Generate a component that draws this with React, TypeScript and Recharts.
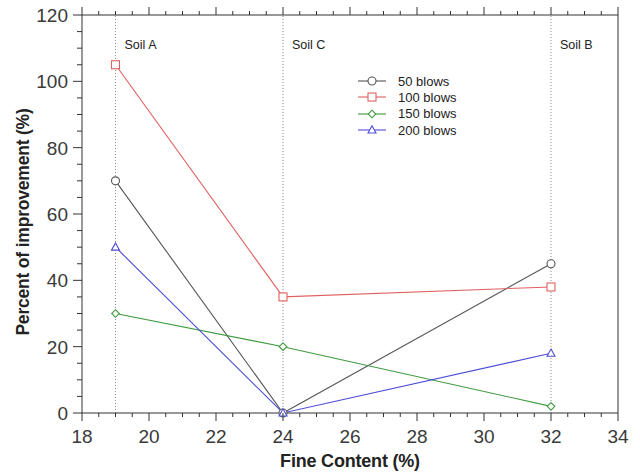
import React from 'react';
import { LineChart, Line, XAxis, YAxis, ReferenceLine, Legend } from 'recharts';

const fineContent = [19, 24, 32];
const blows50 = [70, 0, 45];
const blows100 = [105, 35, 38];
const blows150 = [30, 20, 2];
const blows200 = [50, 0, 18];

const seriesNames = ['50 blows', '100 blows', '150 blows', '200 blows'];
const seriesValues = [blows50, blows100, blows150, blows200];
const seriesColors = ['#555555', '#e06060', '#3f9a3f', '#4c4cd8'];
const seriesShapes = ['circle', 'square', 'diamond', 'triangle'];

const soilPositions = [19, 24, 32];
const soilNames = ['Soil A', 'Soil C', 'Soil B'];

const xMajorTicks = [18, 20, 22, 24, 26, 28, 30, 32, 34];
const yMajorTicks = [0, 20, 40, 60, 80, 100, 120];

const FONT = '"Liberation Sans", Arial, Helvetica, sans-serif';
const AXIS = '#333';

// minor tick positions (every 0.5 on x, every 5 on y)
const steps = (from: number, to: number, step: number) => {
  const out: number[] = [];
  for (let v = from; v <= to + 1e-9; v += step) out.push(Math.round(v * 100) / 100);
  return out;
};
const xTicks = steps(18, 34, 0.5);
const yTicks = steps(0, 120, 5);

const data = fineContent.map((fc, i) => {
  const row: any = { fc };
  seriesNames.forEach((name, j) => {
    row[name] = seriesValues[j][i];
  });
  return row;
});

const Marker = ({ shape, cx, cy, color }: any) => {
  const common = { fill: '#fff', stroke: color, strokeWidth: 1.1 };
  if (shape === 'circle') return <circle cx={cx} cy={cy} r={4} {...common} />;
  if (shape === 'square') return <rect x={cx - 4} y={cy - 4} width={8} height={8} {...common} />;
  if (shape === 'diamond')
    return <polygon points={`${cx},${cy - 3.8} ${cx + 3.8},${cy} ${cx},${cy + 3.8} ${cx - 3.8},${cy}`} {...common} />;
  return <polygon points={`${cx},${cy - 4.2} ${cx + 4},${cy + 3} ${cx - 4},${cy + 3}`} {...common} />;
};

// ticks point outward; the axis line sits at (x, y) given by recharts with tickSize 0
const renderTick = (side: string, majors: number[], showLabel: boolean) => (props: any) => {
  const { x, y, payload } = props;
  const v = payload.value;
  const major = majors.includes(v);
  const len = major ? 8 : 4;
  let line = null;
  if (side === 'bottom') line = <line x1={x} x2={x} y1={y} y2={y + len} stroke={AXIS} />;
  if (side === 'top') line = <line x1={x} x2={x} y1={y} y2={y - len} stroke={AXIS} />;
  if (side === 'left') line = <line x1={x} x2={x - len - 1} y1={y} y2={y} stroke={AXIS} />;
  if (side === 'right') line = <line x1={x} x2={x + len} y1={y} y2={y} stroke={AXIS} />;
  let label = null;
  if (showLabel && major) {
    if (side === 'bottom')
      label = (
        <text x={x} y={y + 30} textAnchor="middle" fontSize={19} fill="#3a3a3a" fontFamily={FONT}>
          {v}
        </text>
      );
    if (side === 'left')
      label = (
        <text x={x - 14} y={y + 7} textAnchor="end" fontSize={19} fill="#3a3a3a" fontFamily={FONT}>
          {v}
        </text>
      );
  }
  return (
    <g>
      {line}
      {label}
    </g>
  );
};

const renderSoilLabel = (name: string) => (props: any) => {
  const { viewBox } = props;
  return (
    <text x={viewBox.x + 9} y={viewBox.y + 34} fontSize={12.5} fill="#222" fontFamily={FONT}>
      {name}
    </text>
  );
};

const LegendBox = () => (
  <div style={{ fontFamily: FONT, fontSize: 13, color: '#222' }}>
    {seriesNames.map((name, i) => (
      <div key={name} style={{ display: 'flex', alignItems: 'center', height: 16.3 }}>
        <svg width={28} height={12} style={{ marginRight: 12 }}>
          <line x1={0} x2={28} y1={6} y2={6} stroke={seriesColors[i]} strokeWidth={1.1} />
          <Marker shape={seriesShapes[i]} cx={14} cy={6} color={seriesColors[i]} />
        </svg>
        <span>{name}</span>
      </div>
    ))}
  </div>
);

export default function App() {
  return (
    <div style={{ position: 'absolute', left: 0, top: 0, width: 640, height: 472, background: '#fff' }}>
      <LineChart width={640} height={472} data={data} margin={{ top: 14, right: 21, bottom: 58, left: 81 }}>
        <XAxis
          dataKey="fc"
          type="number"
          domain={[18, 34]}
          ticks={xTicks}
          interval={0}
          height={1}
          tickSize={0}
          tickMargin={0}
          stroke={AXIS}
          tick={renderTick('bottom', xMajorTicks, true)}
          label={(p: any) => (
            <text
              x={p.viewBox.x + p.viewBox.width / 2}
              y={p.viewBox.y + 54}
              textAnchor="middle"
              fontSize={18}
              fontWeight="bold"
              fill="#222"
              fontFamily={FONT}
              letterSpacing={-0.2}
            >
              Fine Content (%)
            </text>
          )}
        />
        <XAxis
          xAxisId="top"
          orientation="top"
          dataKey="fc"
          type="number"
          domain={[18, 34]}
          ticks={xTicks}
          interval={0}
          height={1}
          tickSize={0}
          tickMargin={0}
          stroke={AXIS}
          tick={renderTick('top', xMajorTicks, false)}
        />
        <YAxis
          type="number"
          domain={[0, 120]}
          ticks={yTicks}
          interval={0}
          width={1}
          tickSize={0}
          tickMargin={0}
          stroke={AXIS}
          tick={renderTick('left', yMajorTicks, true)}
          label={(p: any) => {
            const cx = 23;
            const cy = p.viewBox.y + p.viewBox.height / 2 + 8;
            return (
              <text
                x={cx}
                y={cy}
                transform={`rotate(-90, ${cx}, ${cy})`}
                textAnchor="middle"
                dominantBaseline="central"
                fontSize={17.5}
                fontWeight="bold"
                fill="#222"
                fontFamily={FONT}
                letterSpacing={-0.2}
              >
                Percent of improvement (%)
              </text>
            );
          }}
        />
        <YAxis
          yAxisId="right"
          orientation="right"
          type="number"
          domain={[0, 120]}
          ticks={yTicks}
          interval={0}
          width={1}
          tickSize={0}
          tickMargin={0}
          stroke={AXIS}
          tick={renderTick('right', yMajorTicks, false)}
        />
        {soilPositions.map((pos, i) => (
          <ReferenceLine
            key={pos}
            x={pos}
            stroke="#8a8a8a"
            strokeDasharray="1 2"
            label={renderSoilLabel(soilNames[i])}
          />
        ))}
        {seriesNames.map((name, i) => (
          <Line
            key={name}
            type="linear"
            dataKey={name}
            stroke={seriesColors[i]}
            strokeWidth={1.1}
            isAnimationActive={false}
            activeDot={false}
            dot={(p: any) => (
              <Marker key={`${name}-${p.index}`} shape={seriesShapes[i]} cx={p.cx} cy={p.cy} color={seriesColors[i]} />
            )}
          />
        ))}
        <Legend
          layout="vertical"
          align="center"
          verticalAlign="middle"
          content={() => <LegendBox />}
          wrapperStyle={{ left: 358, top: 73, width: 140 }}
        />
      </LineChart>
    </div>
  );
}
